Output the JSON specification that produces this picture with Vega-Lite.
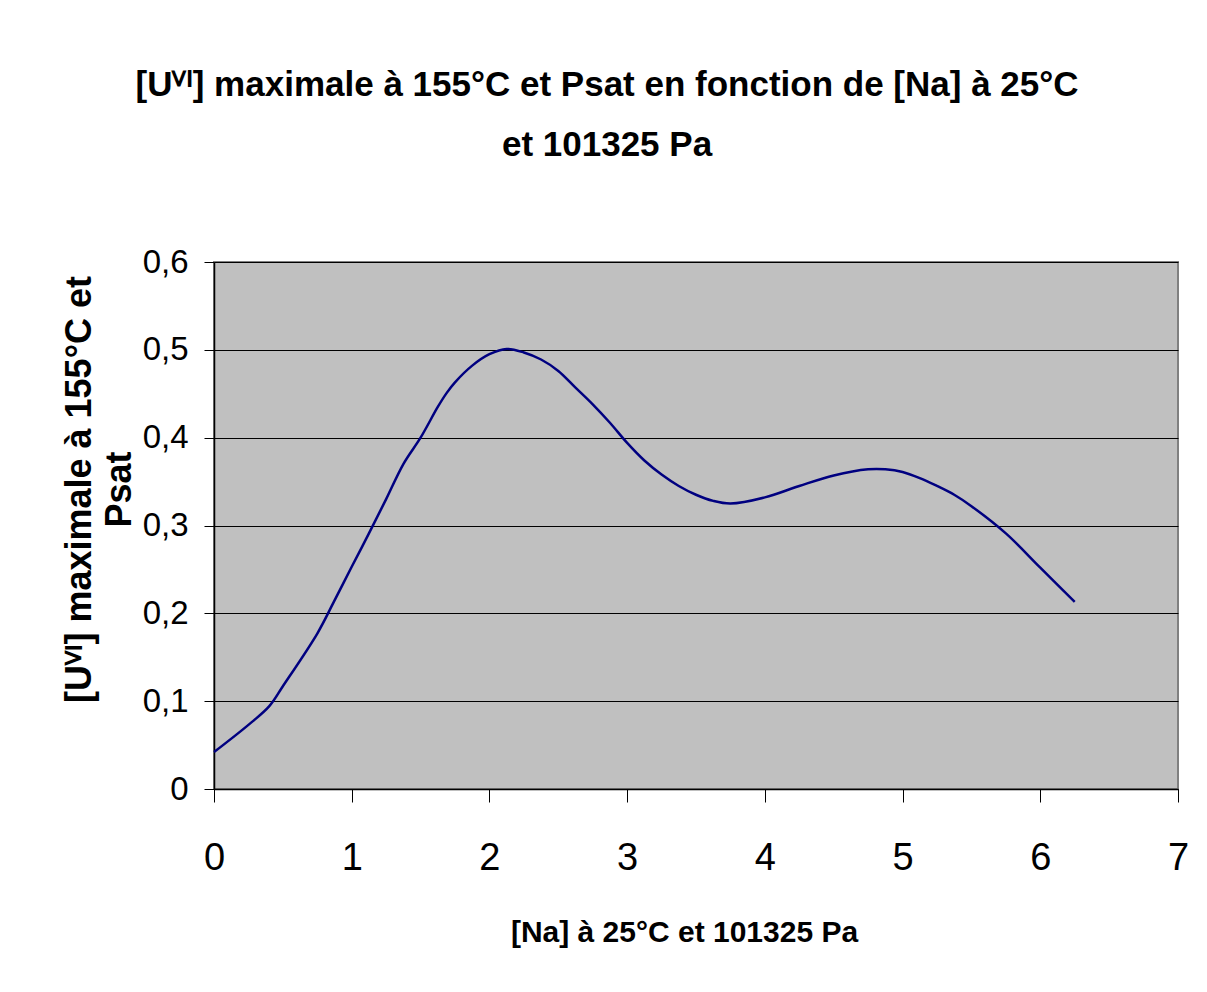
{
  "$schema": "https://vega.github.io/schema/vega-lite/v6.json",
  "width": 964,
  "height": 527,
  "autosize": {"type": "none"},
  "padding": {"left": 214, "top": 262, "right": 29, "bottom": 203},
  "background": "white",
  "title": {
    "text": ["[Uⱽᴵ] maximale à 155°C et Psat en fonction de [Na] à 25°C", "et 101325 Pa"],
    "font": "Liberation Sans",
    "fontSize": 35,
    "fontWeight": "bold",
    "color": "black",
    "anchor": "middle",
    "frame": "group",
    "dx": -89,
    "baseline": "bottom",
    "lineHeight": 60,
    "offset": 48
  },
  "data": {
    "values": [
      {"na": 0, "u": 0.042},
      {"na": 0.25, "u": 0.073},
      {"na": 0.4, "u": 0.094},
      {"na": 0.5, "u": 0.117},
      {"na": 0.75, "u": 0.177},
      {"na": 0.87, "u": 0.213},
      {"na": 1.0, "u": 0.253},
      {"na": 1.125, "u": 0.291},
      {"na": 1.25, "u": 0.330},
      {"na": 1.375, "u": 0.370},
      {"na": 1.5, "u": 0.400},
      {"na": 1.625, "u": 0.435},
      {"na": 1.69, "u": 0.451},
      {"na": 1.75, "u": 0.463},
      {"na": 1.875, "u": 0.482},
      {"na": 2.0, "u": 0.495},
      {"na": 2.125, "u": 0.501},
      {"na": 2.25, "u": 0.497},
      {"na": 2.375, "u": 0.489},
      {"na": 2.5, "u": 0.476},
      {"na": 2.625, "u": 0.457},
      {"na": 2.75, "u": 0.438},
      {"na": 2.875, "u": 0.417},
      {"na": 3.0, "u": 0.394},
      {"na": 3.125, "u": 0.374},
      {"na": 3.25, "u": 0.358},
      {"na": 3.375, "u": 0.345},
      {"na": 3.5, "u": 0.335},
      {"na": 3.625, "u": 0.328},
      {"na": 3.75, "u": 0.325},
      {"na": 4.0, "u": 0.332},
      {"na": 4.25, "u": 0.345},
      {"na": 4.5, "u": 0.357},
      {"na": 4.75, "u": 0.364},
      {"na": 4.875, "u": 0.364},
      {"na": 5.0, "u": 0.361},
      {"na": 5.125, "u": 0.354},
      {"na": 5.25, "u": 0.345},
      {"na": 5.375, "u": 0.335},
      {"na": 5.5, "u": 0.322},
      {"na": 5.75, "u": 0.291},
      {"na": 6.0, "u": 0.252},
      {"na": 6.25, "u": 0.213}
    ]
  },
  "mark": {"type": "line", "color": "#000080", "strokeWidth": 2.5, "interpolate": "catmull-rom"},
  "encoding": {
    "x": {
      "field": "na",
      "type": "quantitative",
      "scale": {"domain": [0, 7], "nice": false, "zero": false},
      "axis": {
        "title": "[Na] à 25°C et 101325 Pa",
        "values": [0, 1, 2, 3, 4, 5, 6, 7],
        "format": "d",
        "grid": false,
        "domainColor": "black",
        "domainWidth": 1.5,
        "tickColor": "black",
        "tickWidth": 1,
        "tickSize": 13,
        "labelPadding": 37,
        "labelFont": "Liberation Sans",
        "labelFontSize": 38,
        "labelColor": "black",
        "labelFlush": false,
        "titleFont": "Liberation Sans",
        "titleFontSize": 30,
        "titleFontWeight": "bold",
        "titleColor": "black",
        "titleBaseline": "alphabetic",
        "titleX": 470,
        "titleY": 152,
        "titleAlign": "center"
      }
    },
    "y": {
      "field": "u",
      "type": "quantitative",
      "scale": {"domain": [0, 0.6], "nice": false, "zero": false},
      "axis": {
        "title": ["[Uⱽᴵ] maximale à 155°C et", "Psat"],
        "values": [0, 0.1, 0.2, 0.3, 0.4, 0.5, 0.6],
        "labelExpr": "datum.value == 0 ? '0' : replace(format(datum.value, '.1f'), '.', ',')",
        "grid": true,
        "gridColor": "black",
        "gridWidth": 1,
        "gridOpacity": 1,
        "domainColor": "black",
        "domainWidth": 1.5,
        "tickColor": "black",
        "tickWidth": 1,
        "tickSize": 10,
        "labelPadding": 16,
        "labelFont": "Liberation Sans",
        "labelFontSize": 33,
        "labelColor": "black",
        "labelFlush": false,
        "titleFont": "Liberation Sans",
        "titleFontSize": 36,
        "titleFontWeight": "bold",
        "titleColor": "black",
        "titleAngle": -90,
        "titleBaseline": "alphabetic",
        "titleAlign": "center",
        "titleX": -124,
        "titleY": 227,
        "titleLineHeight": 40
      }
    }
  },
  "config": {
    "view": {"fill": "#C0C0C0", "stroke": "#808080", "strokeWidth": 2}
  }
}
